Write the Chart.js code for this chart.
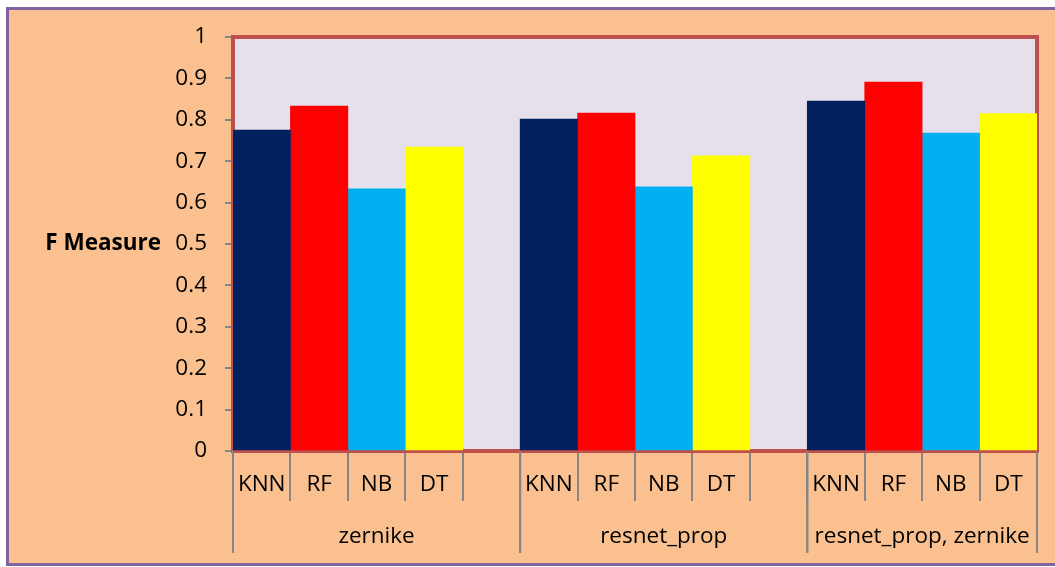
<!DOCTYPE html>
<html><head><meta charset="utf-8">
<script src="https://cdn.jsdelivr.net/npm/chart.js@4"></script>
<style>
html,body{margin:0;padding:0;background:#fff;}
#wrap{position:relative;width:1055px;height:567px;overflow:hidden;background:#fff;}
#frame{position:absolute;left:6px;top:7px;width:1100px;height:553px;border:3px solid #8064A2;background:#FAC090;}
canvas{position:absolute;left:0;top:0;}
</style></head><body>
<div id="wrap"><div id="frame"></div><canvas id="c" width="1055" height="567"></canvas></div>
<script>
const groups = ['zernike', 'resnet_prop', 'resnet_prop, zernike'];
const methods = ['KNN', 'RF', 'NB', 'DT'];
const knnValues = [0.775, 0.802, 0.845];
const rfValues = [0.833, 0.816, 0.891];
const nbValues = [0.633, 0.638, 0.768];
const dtValues = [0.734, 0.713, 0.815];
const yTitle = 'F Measure';

const colors = ['#002060', '#FF0000', '#00B0F0', '#FFFF00'];
const series = [knnValues, rfValues, nbValues, dtValues];

const labels = [];
const groupStart = [];
groups.forEach((g, gi) => {
  groupStart.push(labels.length);
  methods.forEach(m => labels.push(m));
  if (gi < groups.length - 1) labels.push('');
});
const datasets = methods.map((m, mi) => {
  const data = labels.map(() => null);
  groups.forEach((g, gi) => { data[groupStart[gi] + mi] = series[mi][gi]; });
  return { label: m, data, backgroundColor: colors[mi], borderWidth: 0,
           barPercentage: 1, categoryPercentage: 1 };
});

const FONT = "'Open Sans', 'Noto Sans', sans-serif";
const FS = 22.5;
Chart.defaults.font.family = FONT;
Chart.defaults.font.size = FS;
Chart.defaults.color = '#000';

const decor = {
  id: 'decor',
  beforeDraw(chart) {
    const { ctx, chartArea: a } = chart;
    ctx.save();
    ctx.fillStyle = '#E6E0EC';
    ctx.fillRect(a.left, a.top, a.right - a.left, a.bottom - a.top);
    ctx.restore();
  },
  beforeDatasetsDraw(chart) {
    const { ctx, chartArea: a } = chart;
    ctx.save();
    ctx.strokeStyle = '#C0504D';
    ctx.lineWidth = 4;
    ctx.strokeRect(a.left, a.top, a.right - a.left, a.bottom - a.top);
    ctx.restore();
  },
  afterDraw(chart) {
    const { ctx, chartArea: a, scales } = chart;
    const x = scales.x;
    const w = (a.right - a.left) / labels.length;
    ctx.save();
    ctx.strokeStyle = '#868686';
    ctx.lineWidth = 2;
    ctx.fillStyle = '#000';
    ctx.font = FS + 'px ' + FONT;
    ctx.textAlign = 'center';
    ctx.textBaseline = 'middle';
    groups.forEach((g, gi) => {
      const s = groupStart[gi];
      const e = gi < groups.length - 1 ? groupStart[gi + 1] - 1 : labels.length - 1;
      const l = x.getPixelForValue(s) - w / 2;
      const r = x.getPixelForValue(e) + w / 2;
      [l, r].forEach(px => {
        ctx.beginPath(); ctx.moveTo(px, a.bottom); ctx.lineTo(px, a.bottom + 102); ctx.stroke();
      });
      ctx.fillText(g, (l + r) / 2, a.bottom + 86);
    });
    ctx.font = 'bold 22.5px ' + FONT;
    ctx.textAlign = 'right';
    ctx.fillText(yTitle, 161, 244);
    ctx.restore();
  }
};

new Chart(document.getElementById('c'), {
  type: 'bar',
  data: { labels, datasets },
  options: {
    responsive: false,
    animation: false,
    devicePixelRatio: 1,
    layout: { padding: { left: 0, right: 18, top: 37, bottom: 0 } },
    plugins: { legend: { display: false }, tooltip: { enabled: false } },
    scales: {
      x: {
        stacked: true,
        afterFit: s => { s.height = 116; },
        grid: { drawOnChartArea: false, tickLength: 50, color: '#868686', lineWidth: 2, offset: true },
        border: { display: false },
        ticks: { autoSkip: false, maxRotation: 0, minRotation: 0, padding: -30, color: '#000' }
      },
      y: {
        stacked: true,
        min: 0, max: 1,
        afterFit: s => { s.width = 233; },
        grid: { drawOnChartArea: false, tickLength: 8, color: '#868686', lineWidth: 2 },
        border: { display: true, color: '#868686', width: 2 },
        ticks: { stepSize: 0.1, padding: 18, color: '#000',
                 callback: v => String(Math.round(v * 10) / 10) }
      }
    }
  },
  plugins: [decor]
});
</script>
</body></html>
